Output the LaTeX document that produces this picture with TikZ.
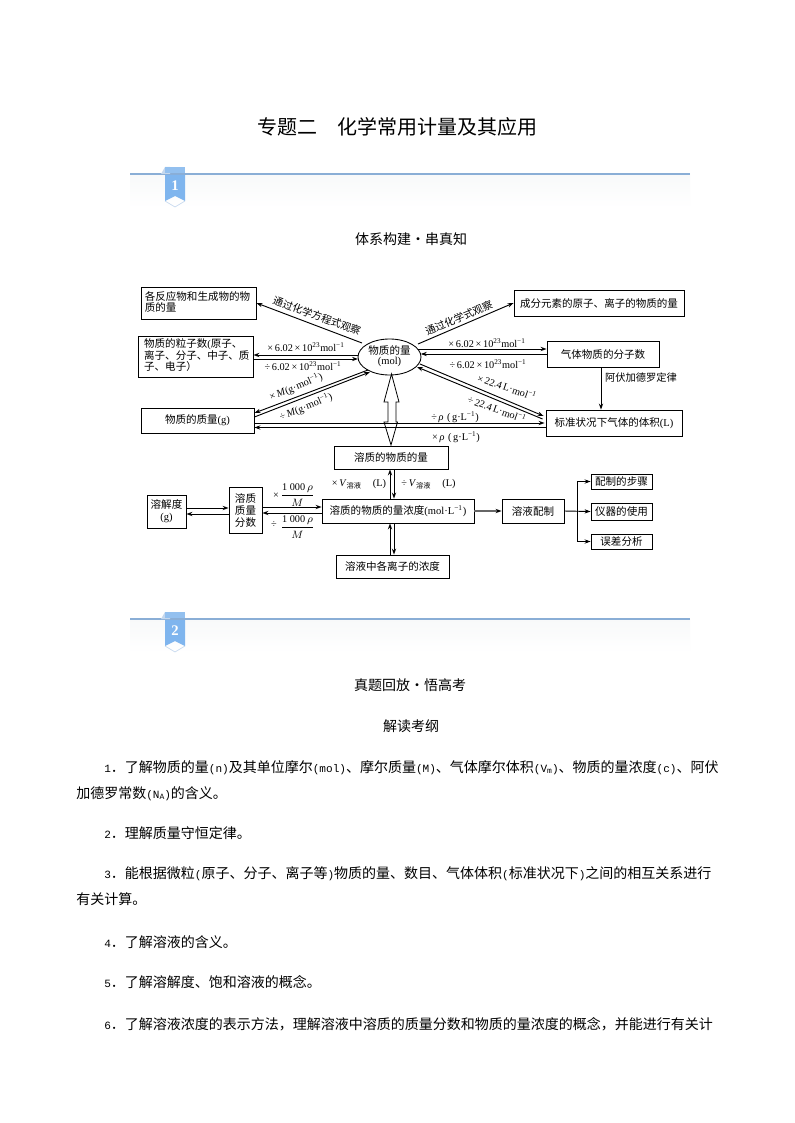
\documentclass[tikz,border=0pt]{standalone}
\usepackage{fontspec}
\setmainfont{Liberation Serif}
\newfontfamily\cjk{Noto Sans CJK SC}
\newfontfamily\monof{Liberation Mono}
\usetikzlibrary{arrows.meta,shapes.geometric,calc}
\definecolor{rulec}{HTML}{8AAED6}
\definecolor{ribbon}{HTML}{7FB5EE}
\definecolor{ribbontop}{HTML}{93C0EF}
\definecolor{ribbonfold}{HTML}{C5D8EE}
\definecolor{bandc}{HTML}{F8F9FA}
\newcommand{\pbox}[6]{%
  \pgfmathsetmacro\cxv{(#2+#4)/2}\pgfmathsetmacro\cyv{(#3+#5)/2}%
  \pgfmathsetmacro\wv{(#4-#2)*0.75}\pgfmathsetmacro\hv{(#5-#3)*0.75}%
  \node[boxs,minimum width=\wv pt,minimum height=\hv pt] (#1) at (\cxv,\cyv) {#6};}
\newcommand{\m}[1]{{\monof\fontsize{8.3pt}{10pt}\selectfont #1}}
\newcommand{\band}[3]{% y, number, name
  \shade[top color=bandc,bottom color=white,draw=none] (130,#1) rectangle (690,#1+34);
  \draw[rulec,line width=1.1pt] (130,#1) -- (690,#1);
  \fill[ribbonfold] (161,#1) -- (165,#1-7) -- (170,#1-7) -- (170,#1) -- cycle;
  \fill[ribbontop] (165,#1-7) -- (185,#1-7) -- (185,#1-1) -- (165,#1-1) -- cycle;
  \fill[ribbon] (165,#1+1) -- (185,#1+1) -- (185,#1+27) -- (175,#1+22) -- (165,#1+27) -- cycle;
  \draw[ribbonfold,line width=.5pt] (165,#1+27) -- (175,#1+33) -- (185,#1+27);
  \node[numtext] (#3) at (175,#1+12) {#2};}
\begin{document}
\begin{tikzpicture}[x=0.75pt,y=-0.75pt,
  boxs/.style={draw,line width=.65pt,inner sep=0pt,font=\fontsize{7.9pt}{9pt}\selectfont,align=center},
  arr/.style={line width=.7pt,-{Stealth[length=4.5pt,width=3.2pt]}},
  lab/.style={inner sep=0pt,font=\fontsize{7.7pt}{9pt}\selectfont},
  title/.style={inner sep=0pt,font=\fontsize{15pt}{17pt}\selectfont\cjk},
  capt/.style={inner sep=0pt,font=\fontsize{10.5pt}{12pt}\selectfont\cjk},
  body/.style={inner sep=0pt,anchor=base west,font=\fontsize{10.5pt}{12pt}\selectfont\cjk},
  numtext/.style={inner sep=0pt,text=white,font=\fontsize{11pt}{12pt}\selectfont\bfseries},
  hollow/.style={draw,line width=.6pt,fill=white}]
\useasboundingbox (0,0) rectangle (794,1123);
\fill[white] (0,0) rectangle (794,1123);

\node[title] (ttl) at (397,127) {专题二\hspace{1em}化学常用计量及其应用};
\band{174}{1}{numa}
\band{619}{2}{numb}
\node[capt] (cap1) at (411,239) {体系构建·串真知};
\node[capt] (cap2) at (410,685) {真题回放·悟高考};
\node[capt] (cap3) at (411,726) {解读考纲};

% hollow double arrow
\draw[hollow] (391.5,374) -- (399,402) -- (396,402) -- (396,422) -- (397.5,422) -- (391,445)
  -- (384,422) -- (388,422) -- (388,402) -- (384,402) -- cycle;

% boxes
\pbox{A}{141}{287}{256}{319}{\begin{tabular}{@{}l@{}}\cjk 各反应物和生成物的物\\[-1pt]\cjk 质的量\end{tabular}\hspace{1.5pt}}
\pbox{B}{138}{336}{253}{377}{\hspace{2pt}\begin{tabular}{@{}l@{}}{\cjk 物质的粒子数}({\cjk 原子、}\\[-1pt]\cjk 离子、分子、中子、质\\[-1pt]\cjk 子、电子）\end{tabular}}
\pbox{C}{141}{408}{254}{433}{{\cjk 物质的质量}(g)}
\pbox{R}{514}{290}{684}{316}{\cjk 成分元素的原子、离子的物质的量}
\pbox{G}{547}{341}{659}{367}{\cjk 气体物质的分子数}
\pbox{S}{546}{410}{682}{436}{{\cjk 标准状况下气体的体积}(L)}
\pbox{T}{334}{446}{448}{469}{\cjk 溶质的物质的量}
\pbox{K}{322}{499}{474}{523}{{\cjk 溶质的物质的量浓度}(mol·L\textsuperscript{−1})}
\pbox{I}{336}{555}{449}{578}{\cjk 溶液中各离子的浓度}
\pbox{D}{147}{495}{186}{528}{{\cjk 溶解度}\\(g)}
\pbox{F}{229}{487}{262}{533}{\cjk 溶质\\\cjk 质量\\\cjk 分数}
\pbox{P}{502}{499}{564}{523}{\cjk 溶液配制}
\pbox{Qa}{591}{474}{652}{489}{\cjk 配制的步骤}
\pbox{Qb}{591}{503}{652}{520}{\cjk 仪器的使用}
\pbox{Qc}{591}{534}{652}{549}{\cjk 误差分析}
\node[boxs,ellipse,minimum width=47.25pt,minimum height=27pt] (ell) at (389.5,357)
  {\begin{tabular}{@{}c@{}}\cjk 物质的量\\[-1pt](mol)\end{tabular}};

% connectors
\draw[arr] ([shift={(-27.5,-14)}]ell.center) -- (A.east);
\draw[arr] ([shift={(28.5,-13)}]ell.center) -- (R.west);
\draw[arr] ([shift={(-31.5,-2)}]ell.center) -- ([shift={(0,-1.5)}]B.east);
\draw[arr] ([shift={(0,2.5)}]B.east) -- ([shift={(-31.5,2)}]ell.center);
\draw[arr] ([shift={(28.2,-8)}]ell.center) -- ([shift={(0,-5)}]G.west);
\draw[arr] (G.west) -- ([shift={(31.3,-3)}]ell.center);
\draw[arr] ([shift={(-2,0)}]G.south) -- ([shift={(-13,0)}]S.north);
\draw[arr] ([shift={(30.5,7)}]ell.center) -- ([shift={(-2,-7)}]S.west);
\draw[arr] ([shift={(-3,-4)}]S.west) -- ([shift={(27.5,10)}]ell.center);
\draw[arr] ([shift={(-21.5,13)}]ell.center) -- ([shift={(0,-7.5)}]C.east);
\draw[arr] ([shift={(0,-3.5)}]C.east) -- ([shift={(-19.5,15)}]ell.center);
\draw[arr] ([shift={(0,2.5)}]C.east) -- ([shift={(-1,0)}]S.west);
\draw[arr] ([shift={(0,4.5)}]S.west) -- ([shift={(0,7)}]C.east);
\draw[arr] ([shift={(-8,0)}]K.north) -- ([shift={(-1,0)}]T.south);
\draw[arr] ([shift={(3,0)}]T.south) -- ([shift={(-4,0)}]K.north);
\draw[arr] ([shift={(-2.5,0)}]I.north) -- ([shift={(-8,0)}]K.south);
\draw[arr] ([shift={(-4,0)}]K.south) -- ([shift={(1.5,0)}]I.north);
\draw[arr] ([shift={(0,-3.5)}]D.east) -- ([shift={(0,-2)}]F.west);
\draw[arr] ([shift={(0,4)}]F.west) -- ([shift={(0,2.5)}]D.east);
\draw[arr] ([shift={(0,-3)}]F.east) -- ([shift={(0,-4)}]K.west);
\draw[arr] ([shift={(0,2)}]K.west) -- ([shift={(0,3)}]F.east);
\draw[line width=1.1pt,black!60] (K.east) -- ([shift={(-4,0)}]P.west);
\draw[arr] ([shift={(-5,0)}]P.west) -- (P.west);
\coordinate (br) at ($(P.east)+(13,0)$);
\draw[arr] (P.east) -- (Qb.west);
\draw[arr] (br) |- (Qa.west);
\draw[arr] (br) |- (Qc.west);

% connector labels
\node[lab] (l1) at (317,316) [rotate=-20] {\cjk 通过化学方程式观察};
\node[lab] (l2) at (459,318) [rotate=23] {\cjk 通过化学式观察};
\node[lab] (l3) at (306,347) {×\,6.02\,×\,10\textsuperscript{23}mol\textsuperscript{−1}};
\node[lab] (l4) at (303,366) {÷\,6.02\,×\,10\textsuperscript{23}mol\textsuperscript{−1}};
\node[lab] (l5) at (487,343) {×\,6.02\,×\,10\textsuperscript{23}mol\textsuperscript{−1}};
\node[lab] (l6) at (488,364) {÷\,6.02\,×\,10\textsuperscript{23}mol\textsuperscript{−1}};
\node[lab] (l7) at (296,387) [rotate=22.5] {×\,\textit{M}(g·mol\textsuperscript{−1})};
\node[lab] (l8) at (306,407) [rotate=22] {÷\,\textit{M}(g·mol\textsuperscript{−1})};
\node[lab] (l9) at (507,387) [rotate=-19] {×\,22.4\,L·mol\textsuperscript{−1}};
\node[lab] (l10) at (497,409) [rotate=-20] {÷\,22.4\,L·mol\textsuperscript{−1}};
\node[lab] (l11) at (455,417) {÷\,\textit{ρ}\,\,(\,g·L\textsuperscript{−1})};
\node[lab] (l12) at (456,437) {×\,\textit{ρ}\,\,(\,g·L\textsuperscript{−1})};
\node[lab] (l13) at (641,378) {\cjk 阿伏加德罗定律};
\node[lab] (l14) at (359,484) {×\,\textit{V}\textsubscript{\cjk 溶液}\hspace{1.1em}(L)};
\node[lab] (l15) at (428.5,484) {÷\,\textit{V}\textsubscript{\cjk 溶液}\hspace{1.1em}(L)};
\node[lab] (l16) at (276,496) {×};
\node[lab] (l17) at (297.5,495) {$\displaystyle\frac{\mbox{1 000}\,\rho}{M}$};
\node[lab] (l18) at (274,525) {÷};
\node[lab] (l19) at (297.5,527) {$\displaystyle\frac{\mbox{1 000}\,\rho}{M}$};

% body text
\node[body] (t1) at (104,772) {\m{1}．了解物质的量\m{(n)}及其单位摩尔\m{(mol)}、摩尔质量\m{(M)}、气体摩尔体积\m{(V\raisebox{-1pt}{\fontsize{6pt}{7pt}\selectfont m})}、物质的量浓度\m{(c)}、阿伏};
\node[body] (t2) at (76,798) {加德罗常数\m{(N\raisebox{-1pt}{\fontsize{6pt}{7pt}\selectfont A})}的含义。};
\node[body] (t3) at (104,838) {\m{2}．理解质量守恒定律。};
\node[body] (t4) at (104,878) {\m{3}．能根据微粒\m{(}原子、分子、离子等\m{)}物质的量、数目、气体体积\m{(}标准状况下\m{)}之间的相互关系进行};
\node[body] (t5) at (76,904) {有关计算。};
\node[body] (t6) at (104,947) {\m{4}．了解溶液的含义。};
\node[body] (t7) at (104,987) {\m{5}．了解溶解度、饱和溶液的概念。};
\node[body] (t8) at (104,1029) {\m{6}．了解溶液浓度的表示方法，理解溶液中溶质的质量分数和物质的量浓度的概念，并能进行有关计};
\end{tikzpicture}
\end{document}
